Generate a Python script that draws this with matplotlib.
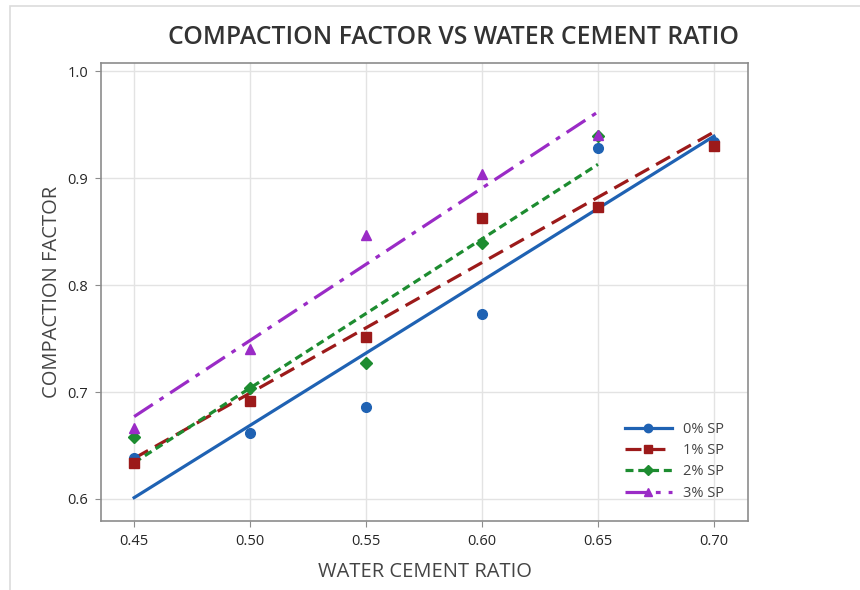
import numpy as np
import matplotlib
matplotlib.use('Agg')
from matplotlib import pyplot as plt
from matplotlib.lines import Line2D
from matplotlib.patches import Rectangle

plt.rcParams['font.family'] = ['Open Sans', 'DejaVu Sans']

# water cement ratio for each mix
wc_ratio = [0.45, 0.50, 0.55, 0.60, 0.65, 0.70]
wc_ratio_short = [0.45, 0.50, 0.55, 0.60, 0.65]

# compaction factor
cf_0sp = [0.638, 0.662, 0.686, 0.773, 0.928, 0.934]
cf_1sp = [0.634, 0.692, 0.751, 0.863, 0.873, 0.930]
cf_2sp = [0.658, 0.704, 0.727, 0.839, 0.939]
cf_3sp = [0.666, 0.740, 0.847, 0.904, 0.940]

labels = ['0% SP', '1% SP', '2% SP', '3% SP']
x_ticks = [0.45, 0.50, 0.55, 0.60, 0.65, 0.70]
y_ticks = [0.6, 0.7, 0.8, 0.9, 1.0]

series = [
    (wc_ratio, cf_0sp, '#1f62b3', 'o', '-', 7),
    (wc_ratio, cf_1sp, '#9c1a1a', 's', (0, (5, 2.5)), 7),
    (wc_ratio_short, cf_2sp, '#1d8c30', 'D', (0, (2.5, 1.5)), 6),
    (wc_ratio_short, cf_3sp, '#9a2bc6', '^', (0, (7, 2.5, 1.5, 2.5)), 7),
]

fig = plt.figure(figsize=(8.6, 5.9), dpi=100)
ax = fig.add_axes([0.1174, 0.1169, 0.7524, 0.7763])

# light frame around the picture
fig.patches.append(Rectangle((10 / 860, -0.1), 1.2, (590 - 6) / 590 + 0.1,
                             transform=fig.transFigure, fill=False,
                             edgecolor='#dcdcdc', linewidth=1.2))

handles = []
for xs, ys, color, marker, ls, ms in series:
    xs = np.array(xs)
    ys = np.array(ys)
    # fitted regression line
    slope, inter = np.polyfit(xs, ys, 1)
    ax.plot(xs, slope * xs + inter, color=color, linestyle=ls, linewidth=2.3, zorder=2)
    ax.plot(xs, ys, linestyle='none', marker=marker, color=color, markersize=ms, zorder=3)
    handles.append(Line2D([], [], color=color, linestyle=ls, linewidth=2.3,
                          marker=marker, markersize=ms - 1))

ax.set_xlim(0.4357, 0.7147)
ax.set_ylim(0.5794, 1.0075)
ax.set_xticks(x_ticks)
ax.set_xticklabels(['%.2f' % v for v in x_ticks])
ax.set_yticks(y_ticks)
ax.set_yticklabels(['%.1f' % v for v in y_ticks])
ax.grid(True, color='#e3e3e3', linewidth=1)
ax.set_axisbelow(True)
for sp in ax.spines.values():
    sp.set_color('#8c8c8c')
    sp.set_linewidth(1.2)
ax.tick_params(direction='out', length=4, color='#8c8c8c', labelsize=10.5,
               labelcolor='#262626', pad=5)

ax.set_xlabel('WATER CEMENT RATIO', fontsize=14.5, color='#444444')
ax.set_ylabel('COMPACTION FACTOR', fontsize=14.5, color='#444444')
ax.xaxis.set_label_coords(0.5, -0.09)
ax.yaxis.set_label_coords(-0.06, 0.5)
fig.text(454 / 860, 1 - 38 / 590, 'COMPACTION FACTOR VS WATER CEMENT RATIO',
         ha='center', va='center', fontsize=17.8, color='#333333', fontweight='semibold')

ax.legend(handles, labels, loc='lower right', frameon=False, fontsize=10.5,
          handlelength=3.2, labelspacing=0.42, borderaxespad=1.0,
          bbox_to_anchor=(0.995, 0.0), labelcolor='#444444')

fig.savefig('out.png', dpi=100)
